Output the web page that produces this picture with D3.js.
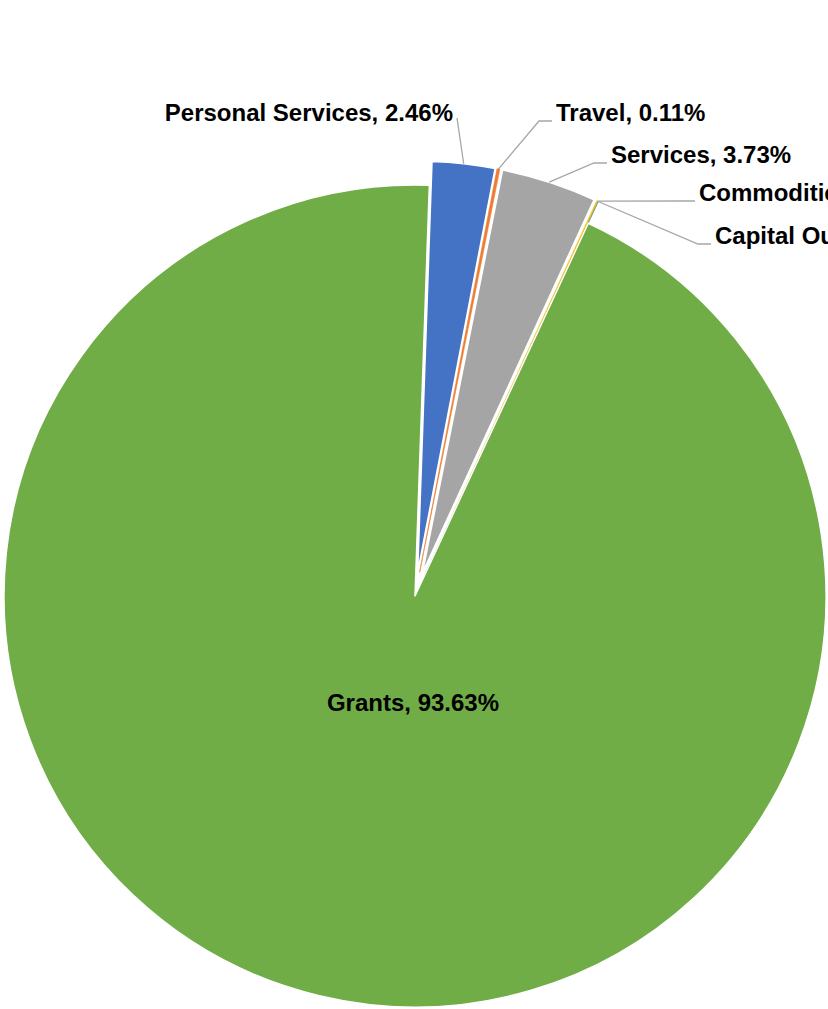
<!DOCTYPE html>
<html>
<head>
<meta charset="utf-8">
<script src="https://cdn.jsdelivr.net/npm/d3@7"></script>
<style>
  html, body { margin: 0; padding: 0; background: #fff; overflow: hidden; }
  svg { display: block; }
  text { font-family: "Liberation Sans", Arial, sans-serif; font-weight: bold; }
</style>
</head>
<body>
<script>
// ---- data ----
const categories = ["Personal Services", "Travel", "Services", "Commodities", "Capital Outlay", "Grants"];
const values = [2.46, 0.11, 3.73, 0.06, 0.01, 93.63];
const labels = ["Personal Services, 2.46%", "Travel, 0.11%", "Services, 3.73%", "Commodities, 0.06%", "Capital Outlay, 0.01%", "Grants, 93.63%"];
const colors = ["#4472C4", "#ED7D31", "#A5A5A5", "#FFC000", "#5B9BD5", "#70AD47"];
const exploded = [true, true, true, true, true, false];

// ---- layout ----
const W = 828, H = 1009;
const cx = 415, cy = 596, R = 411, EXP = 24;
const startDeg = 2;
const labelLayout = [
  { x: 453, y: 121, anchor: "end", leader: "straight", end: [457, 118] },
  { x: 556, y: 121, anchor: "start", leader: "elbow" },
  { x: 611, y: 163, anchor: "start", leader: "elbow" },
  { x: 699, y: 201, anchor: "start", leader: "elbow" },
  { x: 715, y: 244, anchor: "start", leader: "elbow" },
  { x: 413, y: 711, anchor: "middle", leader: "none" }
];

const svg = d3.select("body").append("svg").attr("width", W).attr("height", H);
const g = svg.append("g").attr("transform", `translate(${cx},${cy})`);

const data = categories.map((c, i) => ({ name: c, value: values[i], i }));
const pie = d3.pie().sort(null).value(d => d.value)
  .startAngle(startDeg * Math.PI / 180)
  .endAngle((startDeg + 360) * Math.PI / 180);
const arcs = pie(data);
const arc = d3.arc().innerRadius(0).outerRadius(R);

function offset(a) {
  const mid = (a.startAngle + a.endAngle) / 2;
  const e = exploded[a.data.i] ? EXP : 0;
  return [e * Math.sin(mid), -e * Math.cos(mid)];
}

const tiny = d => d.data.value < 0.5;
g.selectAll("path.slice").data(arcs).join("path")
  .attr("class", "slice")
  .attr("d", arc)
  .attr("transform", d => { const o = offset(d); return `translate(${o[0]},${o[1]})`; })
  .attr("fill", d => colors[d.data.i])
  .attr("stroke", d => tiny(d) ? colors[d.data.i] : "#fff")
  .attr("stroke-width", d => tiny(d) ? 0.6 : 1.5)
  .attr("stroke-linejoin", "round");

// leader lines
const lines = svg.append("g");
arcs.forEach(a => {
  const L = labelLayout[a.data.i];
  if (L.leader === "none") return;
  const mid = (a.startAngle + a.endAngle) / 2;
  const rr = R + (exploded[a.data.i] ? EXP : 0);
  const p0 = [cx + rr * Math.sin(mid), cy - rr * Math.cos(mid)];
  let pts;
  if (L.leader === "straight") {
    pts = [p0, L.end];
  } else {
    pts = [p0, [L.x - 17, L.y], [L.x - 4, L.y]];
  }
  lines.append("path")
    .attr("d", d3.line()(pts))
    .attr("fill", "none")
    .attr("stroke", "#A6A6A6")
    .attr("stroke-width", 1.3);
});

// labels
svg.append("g").selectAll("text").data(arcs).join("text")
  .attr("x", d => labelLayout[d.data.i].x)
  .attr("y", d => labelLayout[d.data.i].y)
  .attr("text-anchor", d => labelLayout[d.data.i].anchor)
  .attr("font-size", 24)
  .attr("fill", "#000")
  .text(d => labels[d.data.i]);
</script>
</body>
</html>
